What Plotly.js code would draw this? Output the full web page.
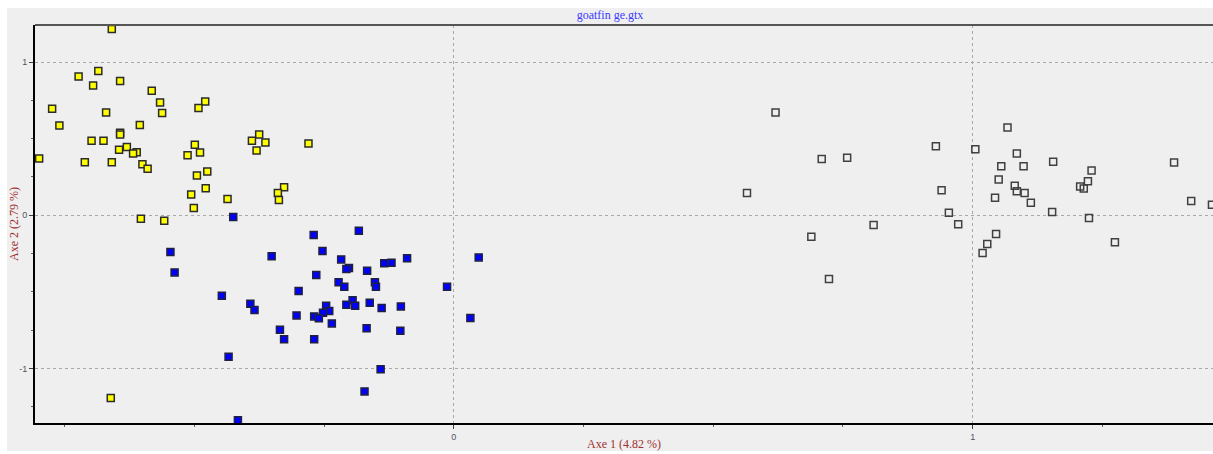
<!DOCTYPE html>
<html>
<head>
<meta charset="utf-8">
<script src="https://cdn.plot.ly/plotly-3.0.1.min.js"></script>
<style>
html,body{margin:0;padding:0;background:#ffffff;}
#chart{position:absolute;left:7px;top:8px;width:1206px;height:443px;}
</style>
</head>
<body>
<div id="chart"></div>
<script>
// Group 1 (yellow)
const yellowX = [-0.659,-0.723,-0.685,-0.643,-0.695,-0.582,-0.566,-0.479,-0.492,-0.774,-0.670,-0.562,-0.760,-0.605,-0.643,-0.643,-0.698,-0.675,-0.375,-0.389,-0.363,-0.280,-0.499,-0.630,-0.645,-0.611,-0.618,-0.489,-0.380,-0.513,-0.799,-0.711,-0.659,-0.600,-0.590,-0.475,-0.495,-0.478,-0.506,-0.327,-0.339,-0.337,-0.436,-0.501,-0.603,-0.558,-0.661];
const yellowY = [1.216,0.906,0.941,0.876,0.847,0.812,0.736,0.742,0.701,0.695,0.671,0.667,0.586,0.590,0.538,0.528,0.486,0.486,0.527,0.486,0.475,0.468,0.461,0.446,0.427,0.412,0.403,0.409,0.422,0.392,0.370,0.346,0.346,0.333,0.303,0.285,0.259,0.176,0.135,0.183,0.146,0.100,0.107,0.048,-0.022,-0.035,-1.192];
// Group 2 (blue)
const blueX = [-0.425,-0.270,-0.183,-0.253,-0.546,-0.351,-0.217,-0.090,-0.120,-0.134,-0.202,-0.207,-0.167,-0.538,-0.265,0.048,-0.222,-0.152,-0.211,-0.150,-0.013,-0.299,-0.447,-0.195,-0.392,-0.162,-0.207,-0.190,-0.246,-0.102,-0.139,-0.384,-0.240,-0.252,-0.303,-0.269,-0.260,0.032,-0.235,-0.168,-0.335,-0.103,-0.327,-0.269,-0.434,-0.141,-0.172,-0.416];
const blueY = [-0.011,-0.129,-0.101,-0.233,-0.240,-0.268,-0.288,-0.281,-0.310,-0.314,-0.344,-0.351,-0.362,-0.373,-0.390,-0.275,-0.438,-0.438,-0.467,-0.467,-0.467,-0.495,-0.525,-0.554,-0.578,-0.571,-0.584,-0.591,-0.591,-0.595,-0.606,-0.619,-0.625,-0.637,-0.654,-0.660,-0.673,-0.671,-0.706,-0.737,-0.748,-0.754,-0.810,-0.810,-0.924,-1.005,-1.150,-1.338];
// Group 3 (white / open)
const whiteX = [0.620,0.709,0.758,0.565,0.929,1.005,1.067,1.085,1.055,1.098,1.155,1.229,1.388,1.050,1.081,1.085,1.100,1.222,1.207,1.214,0.940,1.043,1.112,1.421,1.461,0.954,1.153,1.224,0.972,0.809,0.689,1.045,1.028,1.019,1.274,0.723];
const whiteY = [0.671,0.368,0.375,0.146,0.451,0.431,0.573,0.403,0.320,0.320,0.350,0.292,0.344,0.233,0.192,0.157,0.146,0.222,0.187,0.174,0.163,0.115,0.082,0.093,0.069,0.017,0.022,-0.018,-0.059,-0.063,-0.140,-0.122,-0.188,-0.246,-0.176,-0.416];

const xTickVals = [0, 1];
const yTickVals = [-1, 0, 1];
const titleText = 'goatfin ge.gtx';
const xTitle = 'Axe 1 (4.82 %)';
const yTitle = 'Axe 2 (2.79 %)';

function grp(x, y, fill, edge) {
  return {
    x: x, y: y, type: 'scatter', mode: 'markers', showlegend: false, hoverinfo: 'x+y',
    marker: {symbol: 'square', size: 7, color: fill, line: {color: edge, width: 1.5}}
  };
}

const data = [
  grp(whiteX, whiteY, 'rgba(0,0,0,0)', '#404040'),
  grp(yellowX, yellowY, '#ffff00', '#2a2a2a'),
  grp(blueX, blueY, '#0000ff', '#202040')
];

const tickFont = {family: 'Liberation Sans, Arial, sans-serif', size: 9, color: '#505060'};
const titleFontAx = {family: 'Liberation Serif, Times New Roman, serif', size: 12, color: '#a03030'};

const layout = {
  width: 1206, height: 443,
  paper_bgcolor: '#efefef', plot_bgcolor: '#efefef',
  margin: {l: 28, r: 0, t: 17, b: 28, pad: 0},
  title: {text: titleText, x: 0.5, xref: 'container', xanchor: 'center',
          y: 1 - 7/443, yref: 'container', yanchor: 'middle',
          font: {family: 'Liberation Serif, Times New Roman, serif', size: 12, color: '#3a3aff'}},
  xaxis: {
    range: [-0.807, 1.463], tickvals: xTickVals, ticktext: xTickVals.map(String),
    showgrid: true, gridcolor: '#a8a8a8', gridwidth: 1, griddash: '3px,3px',
    zeroline: false, showline: true, linecolor: '#000000', linewidth: 2,
    ticks: 'outside', ticklen: 4, tickcolor: '#404040', tickwidth: 1,
    minor: {dtick: 0.25, tick0: 0, ticks: 'outside', ticklen: 2, tickcolor: '#606060', showgrid: false},
    tickfont: tickFont, fixedrange: true,
    title: {text: xTitle, font: titleFontAx, standoff: 12}
  },
  yaxis: {
    range: [-1.356, 1.242], tickvals: yTickVals, ticktext: yTickVals.map(String),
    showgrid: true, gridcolor: '#a8a8a8', gridwidth: 1, griddash: '3px,3px',
    zeroline: false, showline: true, linecolor: '#000000', linewidth: 2,
    ticks: 'outside', ticklen: 4, tickcolor: '#404040', tickwidth: 1,
    minor: {dtick: 0.25, tick0: 0, ticks: 'outside', ticklen: 2, tickcolor: '#606060', showgrid: false},
    tickfont: tickFont, fixedrange: true,
    title: {text: yTitle, font: titleFontAx, standoff: 6}
  },
  shapes: [
    {type: 'line', xref: 'paper', yref: 'paper', x0: 0, x1: 1, y0: 1, y1: 1,
     line: {color: '#555555', width: 2}}
  ]
};

Plotly.newPlot('chart', data, layout, {displayModeBar: false, staticPlot: true});
</script>
</body>
</html>
